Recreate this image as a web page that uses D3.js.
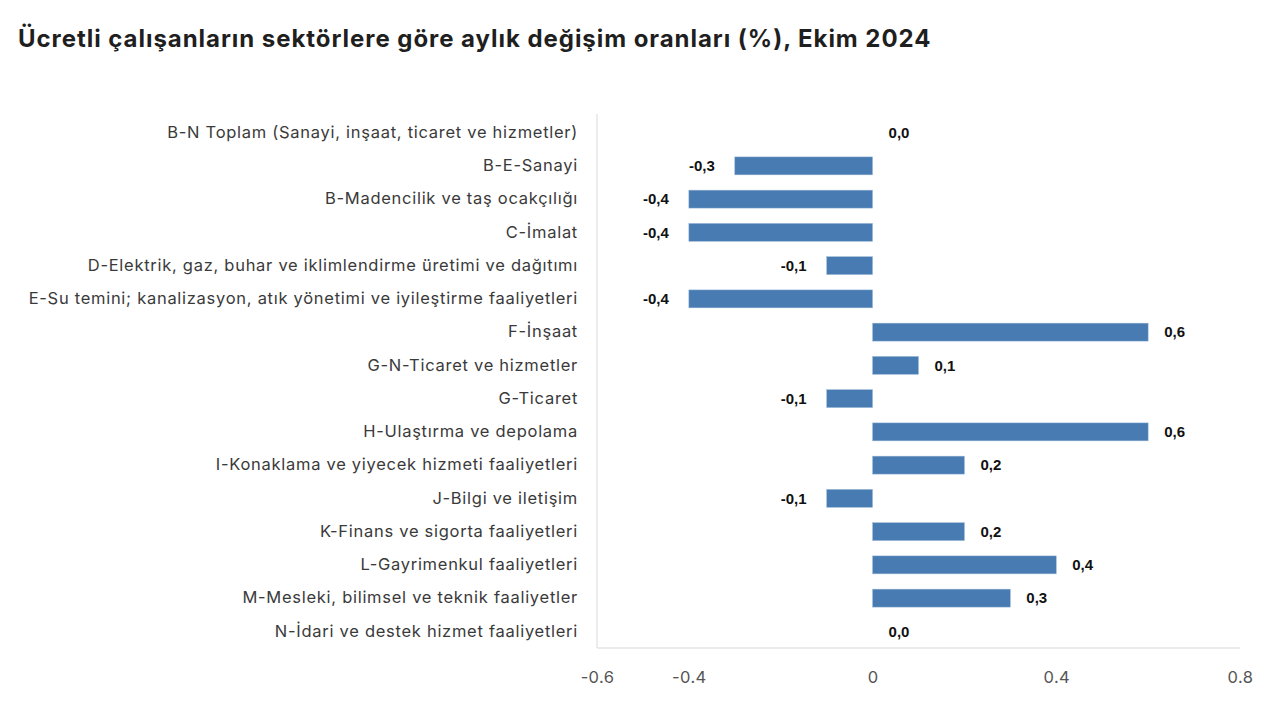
<!DOCTYPE html>
<html><head><meta charset="utf-8">
<script src="https://cdn.jsdelivr.net/npm/d3@7/dist/d3.min.js"></script>
<style>
body{margin:0;background:#fff;}
svg{display:block;}
</style></head>
<body>
<svg id="chart" width="1280" height="724"></svg>
<script>
const titleText = "Ücretli çalışanların sektörlere göre aylık değişim oranları (%), Ekim 2024";
const categories = [
  "B-N Toplam (Sanayi, inşaat, ticaret ve hizmetler)",
  "B-E-Sanayi",
  "B-Madencilik ve taş ocakçılığı",
  "C-İmalat",
  "D-Elektrik, gaz, buhar ve iklimlendirme üretimi ve dağıtımı",
  "E-Su temini; kanalizasyon, atık yönetimi ve iyileştirme faaliyetleri",
  "F-İnşaat",
  "G-N-Ticaret ve hizmetler",
  "G-Ticaret",
  "H-Ulaştırma ve depolama",
  "I-Konaklama ve yiyecek hizmeti faaliyetleri",
  "J-Bilgi ve iletişim",
  "K-Finans ve sigorta faaliyetleri",
  "L-Gayrimenkul faaliyetleri",
  "M-Mesleki, bilimsel ve teknik faaliyetler",
  "N-İdari ve destek hizmet faaliyetleri"
];
const values = [0.0, -0.3, -0.4, -0.4, -0.1, -0.4, 0.6, 0.1, -0.1, 0.6, 0.2, -0.1, 0.2, 0.4, 0.3, 0.0];
const tickValues = [-0.6, -0.4, 0, 0.4, 0.8];

const svg = d3.select("#chart");
const mLeft = 597, mRight = 1240, mTop = 116, mBottom = 648;

const x = d3.scaleLinear().domain([-0.6, 0.8]).range([mLeft, mRight]);
const y = d3.scaleBand().domain(categories).range([mTop, mBottom]).paddingInner(0.46).paddingOuter(0.23);

svg.append("text")
  .attr("x", 18).attr("y", 47)
  .attr("font-family", "Inter, Roboto, sans-serif")
  .attr("font-weight", "700").attr("font-size", 24)
  .attr("letter-spacing", 0.95)
  .attr("fill", "#1f1f1f")
  .text(titleText);

svg.append("line").attr("x1", mLeft).attr("x2", mLeft).attr("y1", mTop - 2).attr("y2", mBottom)
  .attr("stroke", "#d9d9d9").attr("stroke-width", 1);
svg.append("line").attr("x1", mLeft).attr("x2", mRight).attr("y1", mBottom).attr("y2", mBottom)
  .attr("stroke", "#d9d9d9").attr("stroke-width", 1);

const xAxis = d3.axisBottom(x).tickValues(tickValues).tickSize(0).tickPadding(23)
  .tickFormat(d => d === 0 ? "0" : d3.format(".1f")(d).replace("−", "-"));
const gx = svg.append("g").attr("transform", `translate(0,${mBottom})`).call(xAxis);
gx.select(".domain").remove();
gx.selectAll("text").attr("font-family", "Inter, Roboto, sans-serif").attr("font-size", 16.5)
  .attr("letter-spacing", 0.4).attr("fill", "#555");

const yAxis = d3.axisLeft(y).tickSize(0).tickPadding(19);
const gy = svg.append("g").attr("transform", `translate(${mLeft},0)`).call(yAxis);
gy.select(".domain").remove();
gy.selectAll("text").attr("font-family", "Inter, Roboto, sans-serif").attr("font-size", 16.5)
  .attr("letter-spacing", 0.72).attr("fill", "#3a3a3a");

const data = categories.map((c, i) => ({c, v: values[i]}));

svg.append("g").selectAll("rect").data(data).join("rect")
  .attr("x", d => x(Math.min(0, d.v)))
  .attr("width", d => Math.abs(x(d.v) - x(0)))
  .attr("y", d => y(d.c))
  .attr("height", y.bandwidth())
  .attr("fill", "#477bb2")
  .attr("stroke", "#9db9d8").attr("stroke-width", 0.5);

svg.append("g").selectAll("text").data(data).join("text")
  .attr("x", d => d.v < 0 ? x(d.v) - 20 : x(d.v) + 16)
  .attr("y", d => y(d.c) + y.bandwidth() / 2)
  .attr("dy", "0.35em")
  .attr("text-anchor", d => d.v < 0 ? "end" : "start")
  .attr("font-family", "'Liberation Sans Narrow', 'Arial Narrow', sans-serif")
  .attr("font-weight", "700").attr("font-size", 15)
  .attr("fill", "#111")
  .text(d => d3.format(".1f")(d.v).replace("−", "-").replace(".", ","));
</script>
</body></html>
